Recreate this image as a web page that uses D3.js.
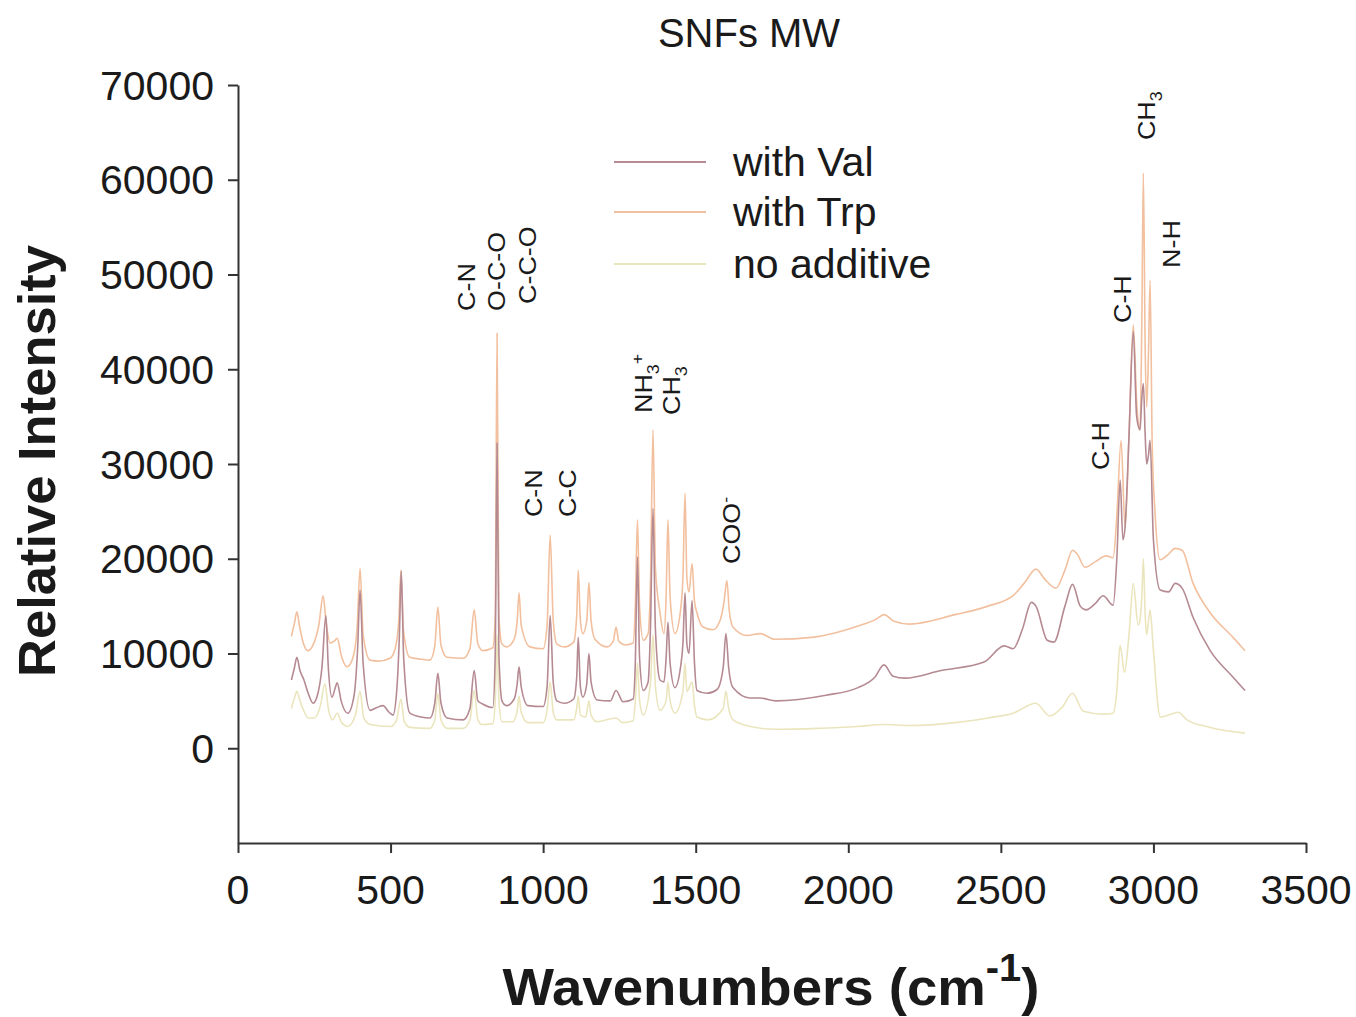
<!DOCTYPE html>
<html><head><meta charset="utf-8">
<script src="https://cdn.jsdelivr.net/npm/d3@7"></script>
<style>
body{margin:0;background:#fff}
text{font-family:"Liberation Sans",Arial,Helvetica,sans-serif;fill:#1a1a1a}
</style>
</head><body>
<svg id="chart" width="1356" height="1017"></svg>
<script>
// ---------------- data ----------------
const chartTitle = "SNFs MW";
const seriesNames = ["with Val", "with Trp", "no additive"];
const xTickValues = [0, 500, 1000, 1500, 2000, 2500, 3000, 3500];
const yTickValues = [0, 10000, 20000, 30000, 40000, 50000, 60000, 70000];

// [wavenumber, intensity]
const withVal = [[175,7200],[185,8500],[193,9600],[203,8200],[215,7300],[230,5800],[246,4750],[262,5800],[275,8500],[288,14000],[296,8500],[308,5400],[318,6300],[325,6900],[338,5000],[360,3700],[380,5500],[392,10500],[400,16700],[410,9000],[433,4000],[455,4300],[475,4500],[495,3800],[508,3500],[520,6000],[529,12000],[535,18700],[543,9500],[563,3700],[600,3300],[629,3200],[645,4800],[655,7900],[665,4800],[685,3200],[738,3000],[760,4200],[774,8200],[786,5000],[800,4700],[835,4300],[843,10000],[849,32200],[855,10000],[865,5000],[880,4500],[905,5200],[915,6800],[921,8600],[928,6500],[950,4500],[1000,4400],[1013,6500],[1023,14000],[1033,7000],[1045,5000],[1070,4750],[1100,5200],[1110,7500],[1115,11700],[1122,6500],[1130,5400],[1143,6800],[1150,10000],[1157,7000],[1177,5100],[1220,5000],[1239,6100],[1262,4900],[1295,5200],[1302,9000],[1309,20200],[1316,9500],[1328,6100],[1344,7000],[1352,13000],[1360,25300],[1368,12500],[1383,7200],[1396,7000],[1403,9500],[1409,13300],[1416,9000],[1432,6400],[1450,8500],[1458,11000],[1465,16400],[1471,11000],[1478,10000],[1488,15600],[1496,9000],[1504,6100],[1537,5800],[1570,6200],[1590,8500],[1599,12100],[1608,8500],[1622,6400],[1678,5300],[1711,5300],[1763,5000],[1927,5600],[2032,6400],[2087,7500],[2117,8800],[2147,7600],[2186,7400],[2304,8200],[2445,9100],[2511,10800],[2540,10500],[2570,12500],[2600,15400],[2615,15000],[2652,11400],[2674,11200],[2710,15000],[2735,17300],[2760,15000],[2779,14600],[2810,15300],[2835,16100],[2868,15100],[2880,20000],[2891,28300],[2900,22000],[2907,23300],[2920,33000],[2934,44000],[2945,35000],[2956,33600],[2962,37000],[2967,38500],[2973,33000],[2978,30000],[2984,31000],[2989,32500],[3000,22000],[3022,16700],[3050,16500],[3071,17400],[3094,16900],[3130,13800],[3186,10300],[3261,7500],[3300,6100]];

const withTrp = [[175,11800],[185,13200],[193,14400],[202,12800],[215,11000],[229,10300],[250,11200],[265,13000],[279,16100],[288,13500],[302,11100],[315,11300],[325,11600],[340,9600],[357,8600],[375,9400],[390,12500],[400,19000],[410,12000],[433,9300],[460,9200],[498,9500],[515,10500],[527,13500],[534,18800],[542,12500],[563,9600],[600,9400],[629,9300],[645,10800],[655,14900],[665,10900],[685,9600],[738,9500],[760,10500],[774,14600],[786,11000],[803,10300],[835,10600],[843,14000],[849,43800],[855,14000],[865,11000],[880,10700],[905,11500],[915,13500],[921,16400],[928,13000],[957,10700],[1000,10500],[1013,13000],[1023,22500],[1033,13500],[1045,11000],[1070,10700],[1100,11200],[1110,14000],[1115,18800],[1122,13500],[1130,12100],[1143,13500],[1150,17500],[1157,13500],[1170,11500],[1209,10700],[1230,11300],[1239,12800],[1248,11300],[1270,10900],[1295,11100],[1302,15000],[1309,24100],[1316,15000],[1328,11400],[1344,12100],[1352,18000],[1360,33600],[1368,19000],[1383,14300],[1396,12100],[1403,16000],[1409,24100],[1416,16000],[1432,12100],[1450,14500],[1458,18000],[1465,26900],[1471,18000],[1478,16500],[1488,19500],[1496,15500],[1504,14300],[1524,12800],[1557,12500],[1580,13500],[1593,15500],[1602,17700],[1610,14500],[1622,12800],[1668,11900],[1711,12100],[1760,11500],[1881,11700],[2032,12900],[2090,13600],[2117,14100],[2150,13400],[2199,13100],[2350,14100],[2458,15000],[2540,16100],[2576,17400],[2615,18900],[2645,17800],[2680,16900],[2710,18800],[2735,20900],[2750,20500],[2776,19100],[2810,19700],[2845,20300],[2868,20100],[2880,24500],[2894,32500],[2907,23300],[2920,33000],[2934,44700],[2946,36000],[2956,33600],[2962,45000],[2967,60700],[2973,42000],[2978,36000],[2984,42000],[2989,49400],[2996,32000],[3005,25000],[3022,19900],[3050,20500],[3071,21100],[3094,20900],[3130,17400],[3186,14300],[3261,11700],[3300,10300]];

const noAdditive = [[175,4200],[185,5300],[193,6000],[203,5000],[215,4000],[230,3200],[250,3200],[270,4500],[285,6800],[296,4200],[310,3000],[325,3700],[340,2700],[360,2300],[385,3500],[400,6000],[412,3200],[433,2500],[500,2300],[520,3000],[534,5200],[545,2800],[563,2200],[629,2100],[645,3000],[655,5800],[665,3000],[685,2100],[738,2100],[760,3000],[774,6100],[786,3000],[800,2500],[835,2600],[843,5000],[849,12000],[855,5000],[865,2800],[900,2800],[915,4000],[921,5500],[928,3800],[950,2700],[1000,2700],[1013,4000],[1023,7000],[1033,3800],[1045,3000],[1100,3000],[1110,4200],[1115,5500],[1122,3500],[1140,3300],[1150,5000],[1157,3500],[1177,2800],[1239,3200],[1260,2700],[1295,2900],[1302,5000],[1309,9000],[1316,5000],[1328,3500],[1352,7000],[1360,12000],[1368,6500],[1383,4000],[1403,5000],[1409,7000],[1416,5000],[1432,3700],[1458,6000],[1465,9000],[1471,6000],[1488,7000],[1496,4500],[1504,3300],[1540,3000],[1590,4200],[1599,6000],[1608,4200],[1622,3000],[1680,2300],[1760,2000],[1900,2100],[2032,2300],[2117,2500],[2200,2400],[2350,2700],[2458,3200],[2540,3700],[2615,4750],[2660,3400],[2700,4300],[2735,5800],[2770,3900],[2835,3600],[2868,3700],[2880,6000],[2891,10900],[2905,8000],[2920,12000],[2934,17400],[2950,13000],[2956,13500],[2962,16000],[2967,20000],[2973,14000],[2978,12000],[2989,14600],[3000,10300],[3022,3300],[3050,3500],[3080,3800],[3110,3000],[3186,2200],[3300,1600]];

// peak assignments: text parts ([string, role]) anchored at [wavenumber, intensity]
const peakLabels = [
  {parts:[["C-N",""]], wn:773, inten:46150},
  {parts:[["O-C-O",""]], wn:872, inten:46150},
  {parts:[["C-C-O",""]], wn:973, inten:46890},
  {parts:[["C-N",""]], wn:993, inten:24400},
  {parts:[["C-C",""]], wn:1104, inten:24400},
  {parts:[["NH",""],["3","sub"],["+","sup"]], wn:1353, inten:35380},
  {parts:[["CH",""],["3","sub"]], wn:1445, inten:35170},
  {parts:[["COO",""],["-","sup"]], wn:1642, inten:19450},
  {parts:[["C-H",""]], wn:2851, inten:29370},
  {parts:[["C-H",""]], wn:2923, inten:44880},
  {parts:[["CH",""],["3","sub"]], wn:3002, inten:64190},
  {parts:[["N-H",""]], wn:3084, inten:50690}
];

// ---------------- drawing ----------------
const svg = d3.select("#chart");
const colors = {"with Val":"#b58a92","with Trp":"#f2c09e","no additive":"#ebe5bd"};
const seriesData = {"with Val":withVal,"with Trp":withTrp,"no additive":noAdditive};

const x = d3.scaleLinear().domain([0,3500]).range([238,1306]);
const y = d3.scaleLinear().domain([-10000,70000]).range([843,85]);

// spectra (draw lowest first so Val sits on top)
const line = d3.line().x(d=>x(d[0])).y(d=>y(d[1])).curve(d3.curveMonotoneX);
["no additive","with Trp","with Val"].forEach(name=>{
  svg.append("path").datum(seriesData[name])
    .attr("d", line).attr("fill","none")
    .attr("stroke", colors[name]).attr("stroke-width",1.6)
    .attr("stroke-linejoin","round");
});

// axes
const yAxis = d3.axisLeft(y).tickValues(yTickValues).tickSize(10).tickSizeOuter(0).tickFormat("");
const xAxis = d3.axisBottom(x).tickValues(xTickValues).tickSize(10).tickSizeOuter(0).tickFormat("");
const gy = svg.append("g").attr("transform","translate(238,0)").call(yAxis);
const gx = svg.append("g").attr("transform","translate(0,843)").call(xAxis);
[gy,gx].forEach(g=>{
  g.selectAll("path,line").attr("stroke","#333").attr("stroke-width",2);
});

// tick labels
yTickValues.forEach(v=>{
  svg.append("text").attr("x",214).attr("y",y(v)+14.5)
    .attr("text-anchor","end").attr("font-size",41).text(d3.format("d")(v));
});
xTickValues.forEach(v=>{
  svg.append("text").attr("x",x(v)).attr("y",904)
    .attr("text-anchor","middle").attr("font-size",41).text(d3.format("d")(v));
});

// title
svg.append("text").attr("x",749).attr("y",47).attr("text-anchor","middle")
  .attr("font-size",40).text(chartTitle);

// axis titles
svg.append("text").attr("transform","translate(55,461) rotate(-90)")
  .attr("text-anchor","middle").attr("font-size",52).attr("font-weight","bold")
  .attr("textLength",432).attr("lengthAdjust","spacingAndGlyphs")
  .text("Relative Intensity");
const xt = svg.append("text").attr("x",771).attr("y",1005).attr("text-anchor","middle")
  .attr("font-size",52).attr("font-weight","bold")
  .attr("textLength",537).attr("lengthAdjust","spacingAndGlyphs");
xt.append("tspan").text("Wavenumbers (cm");
xt.append("tspan").attr("font-size",38).attr("dy",-24).text("-1");
xt.append("tspan").attr("dy",24).text(")");

// legend
const legendY = [162,212,264];
seriesNames.forEach((name,i)=>{
  svg.append("line").attr("x1",614).attr("x2",706)
    .attr("y1",legendY[i]).attr("y2",legendY[i])
    .attr("stroke",colors[name]).attr("stroke-width",2);
  svg.append("text").attr("x",733).attr("y",legendY[i]+14)
    .attr("font-size",41).text(name);
});

// peak labels (rotated)
peakLabels.forEach(p=>{
  const t = svg.append("text")
    .attr("transform",`translate(${x(p.wn)+1},${y(p.inten)}) rotate(-90)`)
    .attr("font-size",24).attr("fill","#111");
  let cur = 0;
  p.parts.forEach(([s,role])=>{
    const ts = t.append("tspan").text(s);
    let target = 0;
    if(role==="sub"){ts.attr("font-size",16); target=7;}
    if(role==="sup"){ts.attr("font-size",16); target=-9;}
    if(target!==cur){ts.attr("dy",target-cur); cur=target;}
  });
  const natural = t.node().getComputedTextLength();
  t.attr("textLength", natural*1.12).attr("lengthAdjust","spacingAndGlyphs");
});
</script>
</body></html>
